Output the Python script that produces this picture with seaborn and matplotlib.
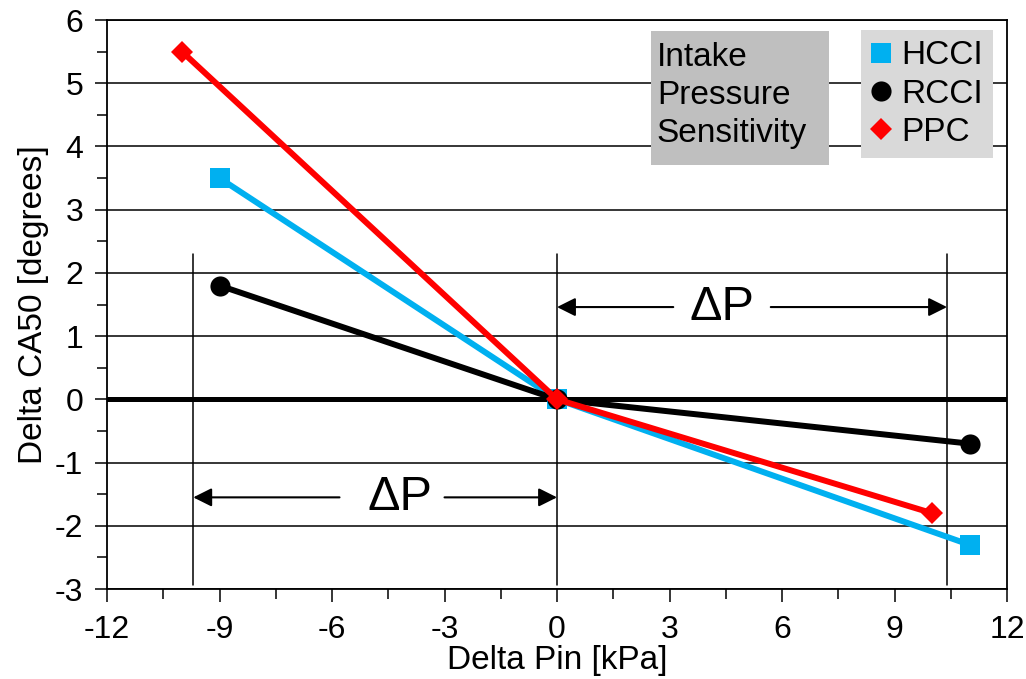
import pandas as pd
import numpy as np
import matplotlib
matplotlib.use('Agg')
import matplotlib.pyplot as plt
import seaborn as sns
from matplotlib.ticker import MultipleLocator
from matplotlib.lines import Line2D
from matplotlib.patches import Rectangle

sns.set_style("white")
plt.rcParams['font.family'] = ['Liberation Sans', 'DejaVu Sans']
plt.rcParams['axes.unicode_minus'] = False
plt.rcParams['text.color'] = 'black'
plt.rcParams['axes.labelcolor'] = 'black'
plt.rcParams['xtick.color'] = 'black'
plt.rcParams['ytick.color'] = 'black'

# data
modes = ['HCCI', 'RCCI', 'PPC']
hcci_x = [-9, 0, 11]
hcci_y = [3.5, 0, -2.3]
rcci_x = [-9, 0, 11]
rcci_y = [1.8, 0, -0.7]
ppc_x = [-10, 0, 10]
ppc_y = [5.5, 0, -1.8]

# delta P guide lines and arrows
guide_x = [-9.7, 0, 10.4]
guide_top = 2.3
arrow_low_y = -1.55
arrow_high_y = 1.46

colors = {'HCCI': '#00B0F0', 'RCCI': '#000000', 'PPC': '#FF0000'}
markers = {'HCCI': 's', 'RCCI': 'o', 'PPC': 'D'}
msizes = {'HCCI': 15, 'RCCI': 14.5, 'PPC': 11.5}

df = pd.concat([
    pd.DataFrame({'Pin': hcci_x, 'CA50': hcci_y, 'Mode': 'HCCI'}),
    pd.DataFrame({'Pin': rcci_x, 'CA50': rcci_y, 'Mode': 'RCCI'}),
    pd.DataFrame({'Pin': ppc_x, 'CA50': ppc_y, 'Mode': 'PPC'}),
], ignore_index=True)

fig = plt.figure(figsize=(10.26, 6.79), dpi=100)
ax = fig.add_axes([0.1043, 0.1325, 0.8772, 0.838])

ax.set_xlim(-12, 12)
ax.set_ylim(-3, 6)
ax.yaxis.grid(True, color='black', linewidth=1.1, zorder=0)
ax.set_axisbelow(True)

# zero line
ax.axhline(0, color='black', linewidth=3.6, zorder=1)

# guide lines
for gx in guide_x:
    ax.plot([gx, gx], [-2.93, guide_top], color='black', lw=1.1, zorder=1)

# arrows with delta P text: (start, end, y, text x, left gap end, right gap start)
arrows = [(guide_x[0], guide_x[1], arrow_low_y, -4.2, -5.8, -3.0),
          (guide_x[1], guide_x[2], arrow_high_y, 4.4, 3.1, 5.7)]
for x0, x1, y, xt, g0, g1 in arrows:
    ax.annotate('', xy=(x0, y), xytext=(g0, y),
                arrowprops=dict(arrowstyle='-|>', color='black', lw=1.5,
                                mutation_scale=28, shrinkA=0, shrinkB=0))
    ax.annotate('', xy=(x1, y), xytext=(g1, y),
                arrowprops=dict(arrowstyle='-|>', color='black', lw=1.5,
                                mutation_scale=28, shrinkA=0, shrinkB=0))
    ax.text(xt, y, '\u0394P', fontsize=35, ha='center', va='center')

sns.lineplot(data=df, x='Pin', y='CA50', hue='Mode', style='Mode',
             palette=colors, markers=markers, dashes=False, linewidth=4.3,
             markersize=14, markeredgewidth=0, sort=False, legend=False,
             ax=ax, zorder=3)
# adjust marker sizes per series
for line, m in zip(ax.get_lines()[-3:], modes):
    line.set_markersize(msizes[m])

ax.xaxis.set_major_locator(MultipleLocator(3))
ax.xaxis.set_minor_locator(MultipleLocator(1.5))
ax.yaxis.set_major_locator(MultipleLocator(1))
ax.yaxis.set_minor_locator(MultipleLocator(0.5))
ax.tick_params(which='major', direction='out', length=9, width=1.1, labelsize=23,
               bottom=True, left=True)
ax.tick_params(axis='x', which='major', pad=10)
ax.tick_params(axis='y', which='major', pad=8)
ax.tick_params(which='minor', direction='out', length=7, width=1.1, bottom=True, left=True)
for s in ax.spines.values():
    s.set_color('black')
    s.set_linewidth(1.3)

ax.set_xlabel('Delta Pin [kPa]', fontsize=24, labelpad=0)
ax.set_ylabel('Delta CA50 [degrees]', fontsize=24, labelpad=4)

# title box
ax.add_patch(Rectangle((0.6044, 0.7452), 0.1978, 0.2355, transform=ax.transAxes,
                       facecolor='#BFBFBF', edgecolor='none', zorder=5))
ax.text(0.611, 0.962, 'Intake\nPressure\nSensitivity', transform=ax.transAxes,
        fontsize=24, ha='left', va='top', linespacing=1.3, zorder=6)

handles = [Line2D([], [], color=colors[m], marker=markers[m], linestyle='none',
                  markersize=msizes[m], markeredgewidth=0) for m in modes]
leg = ax.legend(handles, modes, loc='upper right', bbox_to_anchor=(0.984, 0.982),
                fontsize=24, frameon=True, fancybox=False, handlelength=0.6,
                handletextpad=0.3, borderpad=0.3, labelspacing=0.22,
                borderaxespad=0)
leg.get_frame().set_facecolor('#D9D9D9')
leg.get_frame().set_edgecolor('none')
leg.get_frame().set_alpha(1)
leg.set_zorder(6)

fig.savefig('out.png', dpi=100)
